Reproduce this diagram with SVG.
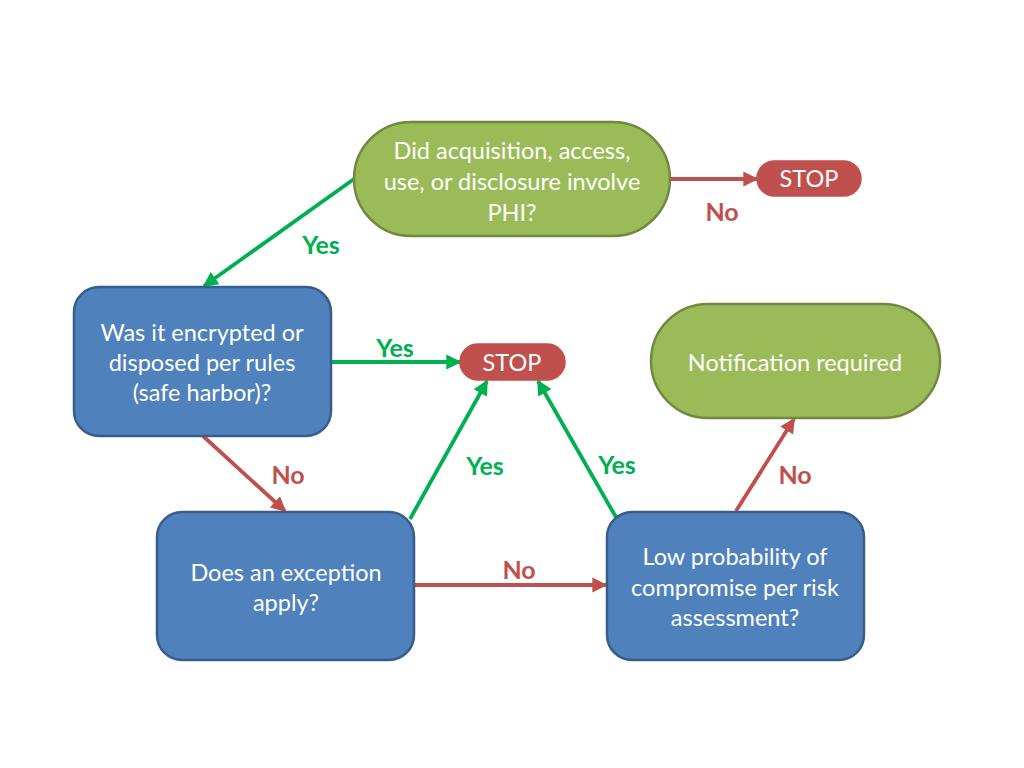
<svg xmlns="http://www.w3.org/2000/svg" width="1024" height="768" viewBox="0 0 1024 768">
<defs>
<style>
.green{fill:#9BBB59;stroke:#71893F;stroke-width:2.5}
.blue{fill:#4F81BD;stroke:#385D8A;stroke-width:2.5}
.stop{fill:#C0504D;stroke:#C0504D;stroke-width:1.5}
.t{font-family:Lato,"Open Sans","Liberation Sans",sans-serif;font-size:23.5px;fill:#FFFFFF;text-anchor:middle}
.lbl{font-family:Lato,"Open Sans","Liberation Sans",sans-serif;font-size:25px;font-weight:bold;text-anchor:middle}
.ly{fill:#00B050}
.ln{fill:#C0504D}
.ag{stroke:#00B050;stroke-width:3.8;fill:none;marker-end:url(#mg)}
.ar{stroke:#C0504D;stroke-width:3.8;fill:none;marker-end:url(#mr)}
</style>
<marker id="mg" viewBox="0 0 10 10" refX="9" refY="5" markerWidth="4" markerHeight="4" orient="auto" markerUnits="strokeWidth">
<path d="M0,0 L10,5 L0,10 z" fill="#00B050"/>
</marker>
<marker id="mr" viewBox="0 0 10 10" refX="9" refY="5" markerWidth="4" markerHeight="4" orient="auto" markerUnits="strokeWidth">
<path d="M0,0 L10,5 L0,10 z" fill="#C0504D"/>
</marker>
</defs>
<rect width="1024" height="768" fill="#FFFFFF"/>
<g id="connectors">
<line class="ar" x1="671" y1="179" x2="757" y2="179"/>
<line class="ag" x1="354" y1="179" x2="204" y2="286"/>
<line class="ag" x1="331" y1="362" x2="460" y2="362"/>
<line class="ar" x1="203" y1="436" x2="285" y2="511"/>
<line class="ag" x1="410" y1="519" x2="487" y2="381"/>
<line class="ar" x1="414" y1="585" x2="606" y2="585"/>
<line class="ag" x1="617" y1="519" x2="538" y2="381"/>
<line class="ar" x1="736" y1="511" x2="794" y2="419"/>
<text class="lbl ln" x="722" y="221">No</text>
<text class="lbl ly" x="321" y="254">Yes</text>
<text class="lbl ly" x="395" y="357">Yes</text>
<text class="lbl ln" x="288" y="484">No</text>
<text class="lbl ly" x="485" y="475">Yes</text>
<text class="lbl ly" x="617" y="474">Yes</text>
<text class="lbl ln" x="519" y="579">No</text>
<text class="lbl ln" x="795" y="484">No</text>
</g>
<g id="n-phi">
<rect class="green" x="354" y="122" width="316" height="114" rx="57"/>
<text class="t" x="512" y="159">Did acquisition, access,</text>
<text class="t" x="512" y="190">use, or disclosure involve</text>
<text class="t" x="512" y="221">PHI?</text>
</g>
<g id="n-stop1">
<rect class="stop" x="757" y="161" width="104" height="35" rx="17.5"/>
<text class="t" x="809" y="187">STOP</text>
</g>
<g id="n-encrypted">
<rect class="blue" x="74" y="287" width="257" height="149" rx="25"/>
<text class="t" x="202" y="341">Was it encrypted or</text>
<text class="t" x="202" y="371">disposed per rules</text>
<text class="t" x="202" y="401">(safe harbor)?</text>
</g>
<g id="n-stop2">
<rect class="stop" x="460" y="344" width="105" height="36" rx="18"/>
<text class="t" x="512" y="371">STOP</text>
</g>
<g id="n-notify">
<rect class="green" x="651" y="304" width="289" height="114" rx="57"/>
<text class="t" x="795" y="371">Notification required</text>
</g>
<g id="n-exception">
<rect class="blue" x="157" y="512" width="257" height="148" rx="25"/>
<text class="t" x="286" y="581">Does an exception</text>
<text class="t" x="286" y="611">apply?</text>
</g>
<g id="n-risk">
<rect class="blue" x="607" y="512" width="257" height="148" rx="25"/>
<text class="t" x="735" y="565">Low probability of</text>
<text class="t" x="735" y="596">compromise per risk</text>
<text class="t" x="735" y="626">assessment?</text>
</g>
</svg>
